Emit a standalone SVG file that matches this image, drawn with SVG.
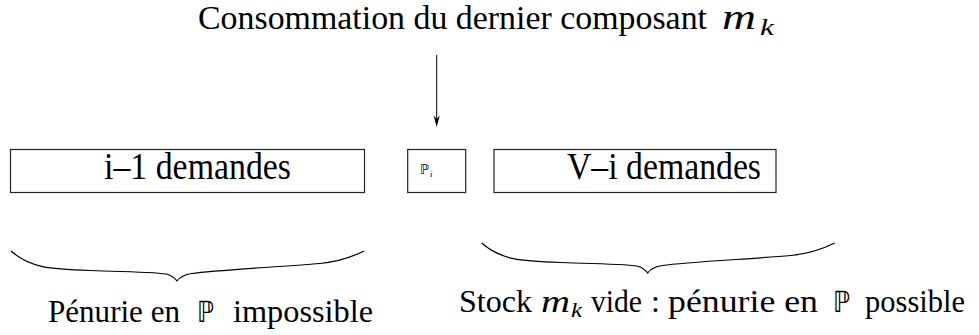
<svg xmlns="http://www.w3.org/2000/svg" xmlns:xlink="http://www.w3.org/1999/xlink" width="979" height="335" viewBox="0 0 979 335">
<style>
  .box { fill: #fff; stroke: #222; stroke-width: 1.2; }
  .lbl { font-family: "Liberation Serif", serif; fill: #000; }
  .bb { font-family: "DejaVu Sans", "DejaVu Serif", sans-serif; fill: #000; }
  .it { font-style: italic; }
  .brace { fill: none; stroke: #000; stroke-width: 1.2; }
  .conn { stroke: #000; stroke-width: 1; fill: none; }
</style>
<defs>
  <path id="brace" d="M11,251 C30,268 50,269 90,270.5 C130,272 160,272 168,274.5 C172,276 175,278 177,281 C179,278 182,275 192,273.5 C215,270 280,267 320,263.5 C340,261.5 352,257 364,251"/>
</defs>
<rect width="979" height="335" fill="#fff"/>

<g id="title">
  <text class="lbl" x="198" y="29" font-size="33" textLength="509" lengthAdjust="spacingAndGlyphs">Consommation du dernier composant</text>
  <text class="lbl it" x="722" y="29" font-size="36" textLength="34" lengthAdjust="spacingAndGlyphs">m</text>
  <text class="lbl it" x="760" y="35" font-size="23" textLength="14" lengthAdjust="spacingAndGlyphs">k</text>
</g>

<g id="connectors">
  <line class="conn" x1="436.7" y1="55" x2="436.7" y2="119"/>
  <path d="M436.7,127 L433.6,115.5 L436.7,119 L439.8,115.5 Z" fill="#000"/>
</g>

<g id="box-left">
  <rect class="box" x="10.5" y="149.5" width="354" height="43"/>
  <text class="lbl" x="104" y="179" font-size="37" textLength="187" lengthAdjust="spacingAndGlyphs">i–1 demandes</text>
</g>

<g id="box-pi">
  <rect class="box" x="407.7" y="149.5" width="58" height="43"/>
  <text class="bb" x="420" y="174" font-size="13" textLength="9" lengthAdjust="spacingAndGlyphs">ℙ</text>
  <text class="lbl it" x="430" y="177" font-size="9">i</text>
</g>

<g id="box-right">
  <rect class="box" x="494" y="149.5" width="282" height="43"/>
  <text class="lbl" x="567" y="179" font-size="37" textLength="194" lengthAdjust="spacingAndGlyphs">V–i demandes</text>
</g>

<g id="brace-left">
  <use xlink:href="#brace" class="brace"/>
  <text class="lbl" x="48" y="322" font-size="32" textLength="132" lengthAdjust="spacingAndGlyphs">Pénurie en</text>
  <text class="bb" x="197" y="322" font-size="29" textLength="17" lengthAdjust="spacingAndGlyphs">ℙ</text>
  <text class="lbl" x="233" y="322" font-size="32" textLength="140" lengthAdjust="spacingAndGlyphs">impossible</text>
</g>

<g id="brace-right">
  <use xlink:href="#brace" class="brace" transform="translate(470.7,-8)"/>
  <text class="lbl" x="459" y="312" font-size="32" textLength="73" lengthAdjust="spacingAndGlyphs">Stock</text>
  <text class="lbl it" x="541" y="312" font-size="32" textLength="29" lengthAdjust="spacingAndGlyphs">m</text>
  <text class="lbl it" x="571" y="317" font-size="21" textLength="11" lengthAdjust="spacingAndGlyphs">k</text>
  <text class="lbl" x="591" y="312" font-size="32" textLength="51" lengthAdjust="spacingAndGlyphs">vide</text>
  <text class="lbl" x="651" y="312" font-size="32">:</text>
  <text class="lbl" x="668" y="312" font-size="32" textLength="150" lengthAdjust="spacingAndGlyphs">pénurie en</text>
  <text class="bb" x="833" y="312" font-size="29" textLength="17" lengthAdjust="spacingAndGlyphs">ℙ</text>
  <text class="lbl" x="865" y="312" font-size="32" textLength="100" lengthAdjust="spacingAndGlyphs">possible</text>
</g>
</svg>
